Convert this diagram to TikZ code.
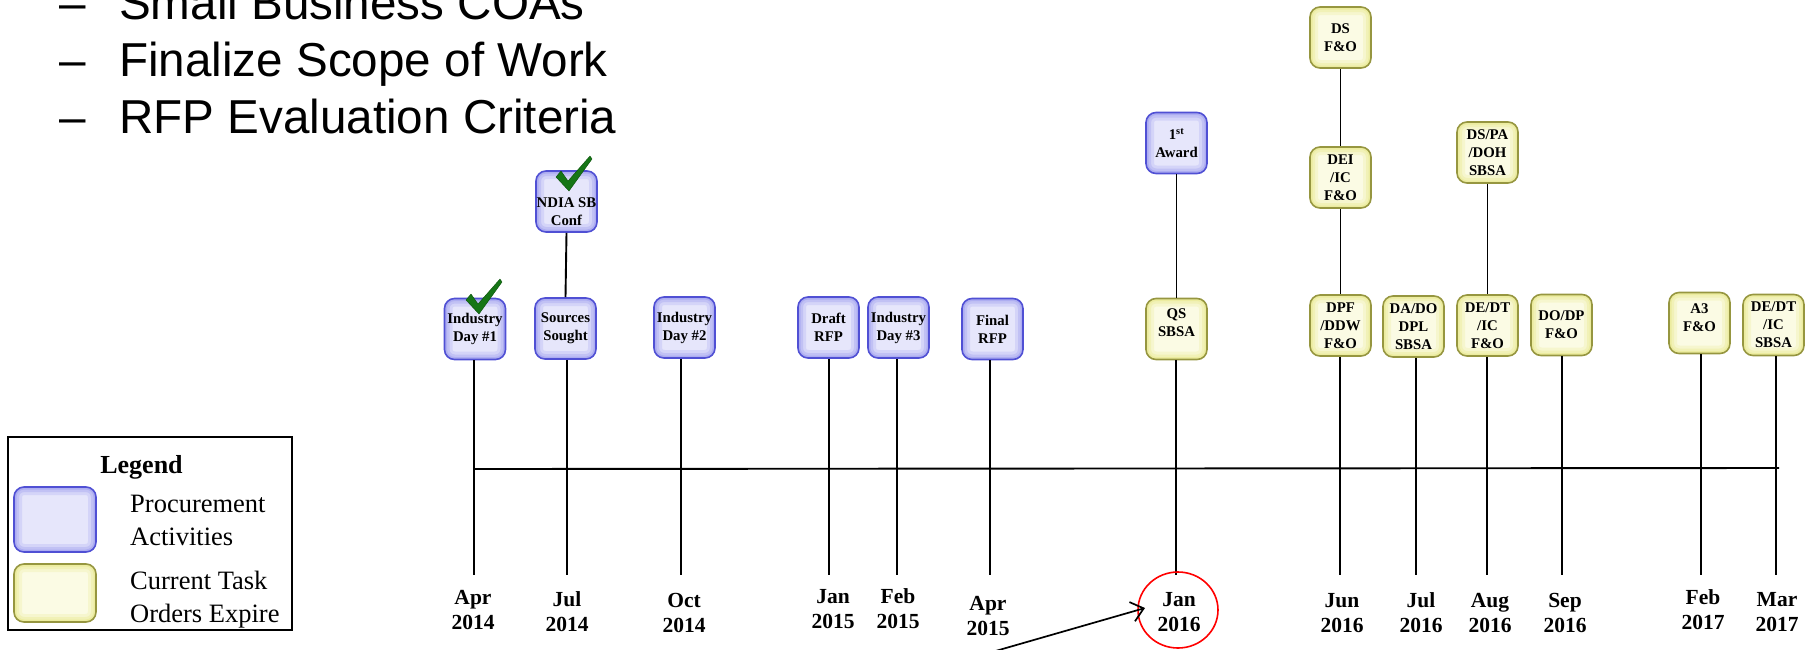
\documentclass[tikz,border=0pt]{standalone}
\usepackage{fontspec}
\setmainfont{Liberation Serif}
\newfontfamily\arialfont{Liberation Sans}
\usetikzlibrary{shapes.geometric,arrows.meta}

\definecolor{bBorder}{RGB}{80,80,212}
\definecolor{bEdge}{RGB}{150,150,238}
\definecolor{bCenter}{RGB}{230,230,251}
\definecolor{yBorder}{RGB}{150,150,64}
\definecolor{yEdge}{RGB}{230,230,130}
\definecolor{yCenter}{RGB}{251,251,228}
\definecolor{chkGreen}{RGB}{22,118,22}
\definecolor{chkDark}{RGB}{10,80,10}

\newcommand\boxfont{\fontsize{14.8}{18}\selectfont\bfseries}
\newcommand\datefont{\fontsize{21.5}{25}\selectfont\bfseries}
\newcommand\legfont{\fontsize{26.5}{32.5}\selectfont}
\newcommand\topfont{\arialfont\fontsize{47.6}{57}\selectfont}

\tikzset{
  glow/.style={path picture={
    \foreach \w/\o in {16/0.22,10/0.3,5/0.45}{
      \draw[#1, line width=\w pt, opacity=\o, rounded corners=10pt]
        (path picture bounding box.south west) rectangle (path picture bounding box.north east);}}},
  bbox/.style={rounded corners=10pt, minimum width=61pt, minimum height=61pt,
    inner sep=0pt, align=center, font=\boxfont, line width=1.6pt},
  pbox/.style={bbox, draw=bBorder, fill=bCenter, glow=bEdge},
  tbox/.style={bbox, draw=yBorder, fill=yCenter, glow=yEdge},
  btext/.style={font=\boxfont, align=center, inner sep=0pt},
  datel/.style={font=\datefont, align=center, inner sep=0pt},
  tl/.style={line width=1.9pt, black},
  chk/.style={fill=chkGreen, draw=chkDark, line width=0.4pt, line join=round},
  toptext/.style={font=\topfont, anchor=base west, inner sep=0pt},
  legtext/.style={font=\legfont, align=left, anchor=west, inner sep=0pt}
}

\begin{document}
\begin{tikzpicture}[x=1pt,y=-1pt]
\useasboundingbox (0,0) rectangle (1816,649);

% top-left text
\node[toptext] (d1) at (59,19) {–};
\node[toptext] (t1) at (119,19) {Small Business COAs};
\node[toptext] (d2) at (59,76.5) {–};
\node[toptext] (t2) at (119,76.5) {Finalize Scope of Work};
\node[toptext] (d3) at (59,133.5) {–};
\node[toptext] (t3) at (119,133.5) {RFP Evaluation Criteria};

% timeline
\coordinate (tlS) at (474,469);
\coordinate (tlE) at (1779,468);
\draw[tl] (tlS) -- (tlE);

% procurement boxes
\node[pbox] (id1) at (475,329) {Industry\\Day \#1};
\node[pbox] (ss) at (565.5,328.5) {Sources\\Sought};
\node[pbox, label={[btext, yshift=-10.5pt]center:NDIA SB\\Conf}] (ndia) at (566.5,201.5) {};
\node[pbox] (id2) at (684.5,327.5) {Industry\\Day \#2};
\node[pbox] (dr) at (828.5,327.5) {Draft\\RFP};
\node[pbox] (id3) at (898.5,327.5) {Industry\\Day \#3};
\node[pbox] (fr) at (992.5,329) {Final\\RFP};
\node[pbox] (aw) at (1176.5,143) {1\textsuperscript{st}\\Award};

% task order boxes
\node[tbox, label={[btext, yshift=6.5pt]center:QS\\SBSA}] (qs) at (1176.5,329) {};
\node[tbox] (ds) at (1340.5,37.5) {DS\\F\&O};
\node[tbox] (dei) at (1340.5,177.5) {DEI\\/IC\\F\&O};
\node[tbox] (dpf) at (1340.5,325.5) {DPF\\/DDW\\F\&O};
\node[tbox] (dado) at (1413.5,326.5) {DA/DO\\DPL\\SBSA};
\node[tbox] (dspa) at (1487.5,152.5) {DS/PA\\/DOH\\SBSA};
\node[tbox] (dedt) at (1487.5,325.5) {DE/DT\\/IC\\F\&O};
\node[tbox] (dodp) at (1561.5,325) {DO/DP\\F\&O};
\node[tbox, label={[btext, yshift=5pt]center:A3\\F\&O}] (a3) at (1699.5,323) {};
\node[tbox] (dedt2) at (1773.5,325) {DE/DT\\/IC\\SBSA};

% bottom ends of the drop lines
\coordinate (bid1) at (474,575);
\coordinate (bss) at (567,575);
\coordinate (bid2) at (681,575);
\coordinate (bdr) at (829,575);
\coordinate (bid3) at (897,575);
\coordinate (bfr) at (990,575);
\coordinate (bqs) at (1176,575);
\coordinate (bdpf) at (1340,575);
\coordinate (bdado) at (1416,575);
\coordinate (bdedt) at (1487,575);
\coordinate (bdodp) at (1562,575);
\coordinate (ba3) at (1701,575);
\coordinate (bdedt2) at (1776,575);

% connectors
\draw[tl] (ndia.south) -- (ss.north);
\draw[tl] (aw.south) -- (qs.north);
\draw[tl] (ds.south) -- (dei.north);
\draw[tl] (dei.south) -- (dpf.north);
\draw[tl] (dspa.south) -- (dedt.north);

\draw[tl] (id1.south -| bid1) -- (bid1);
\draw[tl] (ss.south -| bss) -- (bss);
\draw[tl] (id2.south -| bid2) -- (bid2);
\draw[tl] (dr.south -| bdr) -- (bdr);
\draw[tl] (id3.south -| bid3) -- (bid3);
\draw[tl] (fr.south -| bfr) -- (bfr);
\draw[tl] (qs.south -| bqs) -- (bqs);
\draw[tl] (dpf.south -| bdpf) -- (bdpf);
\draw[tl] (dado.south -| bdado) -- (bdado);
\draw[tl] (dedt.south -| bdedt) -- (bdedt);
\draw[tl] (dodp.south -| bdodp) -- (bdodp);
\draw[tl] (a3.south -| ba3) -- (ba3);
\draw[tl] (dedt2.south -| bdedt2) -- (bdedt2);

% check marks
\fill[chk, shift={(478,312)}] (-12,-12) -- (-7,-18) -- (0,-8) -- (22,-33) -- (24,-30) -- (1,2) -- cycle;
\fill[chk, shift={(568,189)}] (-12,-12) -- (-7,-18) -- (0,-8) -- (22,-33) -- (24,-30) -- (1,2) -- cycle;

% date labels
\node[datel] (dt1) at (473,609.5) {Apr\\2014};
\node[datel] (dt2) at (567,612) {Jul\\2014};
\node[datel] (dt3) at (684,613) {Oct\\2014};
\node[datel] (dt4) at (833,609) {Jan\\2015};
\node[datel] (dt5) at (898,609) {Feb\\2015};
\node[datel] (dt6) at (988,616) {Apr\\2015};
\node[datel] (dt7) at (1179,612.5) {Jan\\2016};
\node[datel] (dt8) at (1342,613) {Jun\\2016};
\node[datel] (dt9) at (1421,613) {Jul\\2016};
\node[datel] (dt10) at (1490,613) {Aug\\2016};
\node[datel] (dt11) at (1565,613) {Sep\\2016};
\node[datel] (dt12) at (1703,610) {Feb\\2017};
\node[datel] (dt13) at (1777,612.5) {Mar\\2017};

% highlight circle and arrow
\node[ellipse, draw=red, line width=1.6pt, minimum width=80pt, minimum height=76pt, inner sep=0pt] (circ) at (1178,610) {};
\coordinate (arS) at (992,652);
\coordinate (arE) at (1145,608);
\draw[line width=1.7pt, -{Straight Barb[length=12pt,width=20pt]}] (arS) -- (arE);

% legend
\node[draw, line width=1.6pt, minimum width=284pt, minimum height=193pt, inner sep=0pt] (legend) at (150,533.5) {};
\node[font=\fontsize{26}{30}\selectfont\bfseries, anchor=base, inner sep=0pt] (legt) at (141.5,473) {Legend};
\node[pbox, minimum width=82pt, minimum height=65pt] (lgb) at (55,519.5) {};
\node[tbox, minimum width=82pt, minimum height=58pt] (lgy) at (55,593) {};
\node[legtext] (lgbt) at (130,520.5) {Procurement\\Activities};
\node[legtext] (lgyt) at (130,599.6) {Current Task\\Orders Expire};
\end{tikzpicture}
\end{document}
